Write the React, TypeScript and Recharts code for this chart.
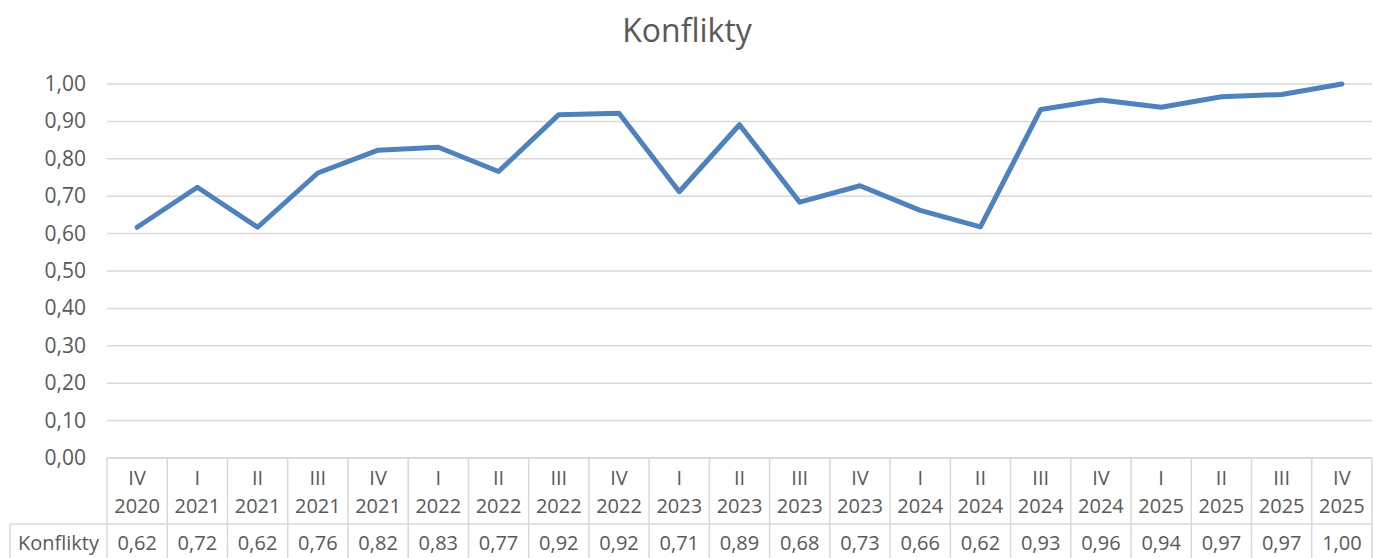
import { LineChart, Line, XAxis, YAxis, CartesianGrid } from 'recharts'

const quarters = ['IV', 'I', 'II', 'III', 'IV', 'I', 'II', 'III', 'IV', 'I', 'II', 'III', 'IV', 'I', 'II', 'III', 'IV', 'I', 'II', 'III', 'IV']
const years = ['2020', '2021', '2021', '2021', '2021', '2022', '2022', '2022', '2022', '2023', '2023', '2023', '2023', '2024', '2024', '2024', '2024', '2025', '2025', '2025', '2025']
const konflikty = [0.617, 0.724, 0.617, 0.762, 0.823, 0.831, 0.766, 0.918, 0.922, 0.712, 0.891, 0.684, 0.728, 0.662, 0.618, 0.932, 0.957, 0.938, 0.966, 0.972, 1.0]
const yTicks = [0, 0.1, 0.2, 0.3, 0.4, 0.5, 0.6, 0.7, 0.8, 0.9, 1.0]
const seriesName = 'Konflikty'

const data = quarters.map((q, i) => ({
  key: `${q} ${years[i]}`,
  quarter: q,
  year: years[i],
  value: konflikty[i],
}))

const W = 1374
const H = 558
const PLOT_LEFT = 107
const PLOT_RIGHT = 1372
const PLOT_TOP = 84
const PLOT_BOTTOM = 458
const CELL_W = (PLOT_RIGHT - PLOT_LEFT) / data.length
const ROW_SPLIT = 524
const TEXT = '#595959'
const BORDER = '#d9d9d9'
const FONT = '"Open Sans", sans-serif'
const TABLE_FS = 20

const fmt = (v: number) => v.toFixed(2).replace('.', ',')

function YTick(props: any) {
  const { y, payload } = props
  return (
    <text x={86} y={y} dy={7} textAnchor="end" fill={TEXT} fontSize={21} fontFamily={FONT}>
      {fmt(payload.value)}
    </text>
  )
}

function TableTick(props: any) {
  const { x, payload } = props
  const i = payload.index
  const d = data[i]
  const left = x - CELL_W / 2
  const right = x + CELL_W / 2
  return (
    <g>
      {i === 0 && (
        <g>
          <line x1={left} y1={PLOT_BOTTOM} x2={left} y2={H} stroke={BORDER} strokeWidth={1.5} />
          <line x1={10} y1={ROW_SPLIT} x2={left} y2={ROW_SPLIT} stroke={BORDER} strokeWidth={1.5} />
          <line x1={10} y1={ROW_SPLIT} x2={10} y2={H} stroke={BORDER} strokeWidth={1.5} />
          <text x={(10 + left) / 2} y={550} textAnchor="middle" fill={TEXT} fontSize={TABLE_FS} fontFamily={FONT}>
            {seriesName}
          </text>
        </g>
      )}
      <line x1={right} y1={PLOT_BOTTOM} x2={right} y2={H} stroke={BORDER} strokeWidth={1.5} />
      <line x1={left} y1={ROW_SPLIT} x2={right} y2={ROW_SPLIT} stroke={BORDER} strokeWidth={1.5} />
      <text x={x} y={485} textAnchor="middle" fill={TEXT} fontSize={TABLE_FS} fontFamily={FONT}>
        {d.quarter}
      </text>
      <text x={x} y={513} textAnchor="middle" fill={TEXT} fontSize={TABLE_FS} fontFamily={FONT}>
        {d.year}
      </text>
      <text x={x} y={550} textAnchor="middle" fill={TEXT} fontSize={TABLE_FS} fontFamily={FONT}>
        {fmt(d.value)}
      </text>
    </g>
  )
}

export default function App() {
  return (
    <div style={{ position: 'absolute', left: 0, top: 0, width: W, height: H, background: '#fff' }}>
      <div
        style={{
          position: 'absolute',
          top: 14,
          left: 0,
          width: W,
          textAlign: 'center',
          fontFamily: FONT,
          fontSize: 32,
          lineHeight: '32px',
          color: TEXT,
        }}
      >
        {seriesName}
      </div>
      <LineChart
        width={W}
        height={H}
        data={data}
        margin={{ top: PLOT_TOP, right: W - PLOT_RIGHT, bottom: 0, left: 0 }}
      >
        <CartesianGrid vertical={false} stroke={BORDER} strokeWidth={1.5} />
        <XAxis
          dataKey="key"
          interval={0}
          height={H - PLOT_BOTTOM}
          padding={{ left: CELL_W / 2, right: CELL_W / 2 }}
          axisLine={{ stroke: BORDER, strokeWidth: 1.5 }}
          tickLine={false}
          tick={<TableTick />}
        />
        <YAxis
          domain={[0, 1]}
          ticks={yTicks}
          width={PLOT_LEFT}
          axisLine={false}
          tickLine={false}
          tick={<YTick />}
        />
        <Line
          type="linear"
          dataKey="value"
          stroke="#4f81bd"
          strokeWidth={5}
          strokeLinejoin="round"
          strokeLinecap="round"
          dot={false}
          isAnimationActive={false}
        />
      </LineChart>
    </div>
  )
}
